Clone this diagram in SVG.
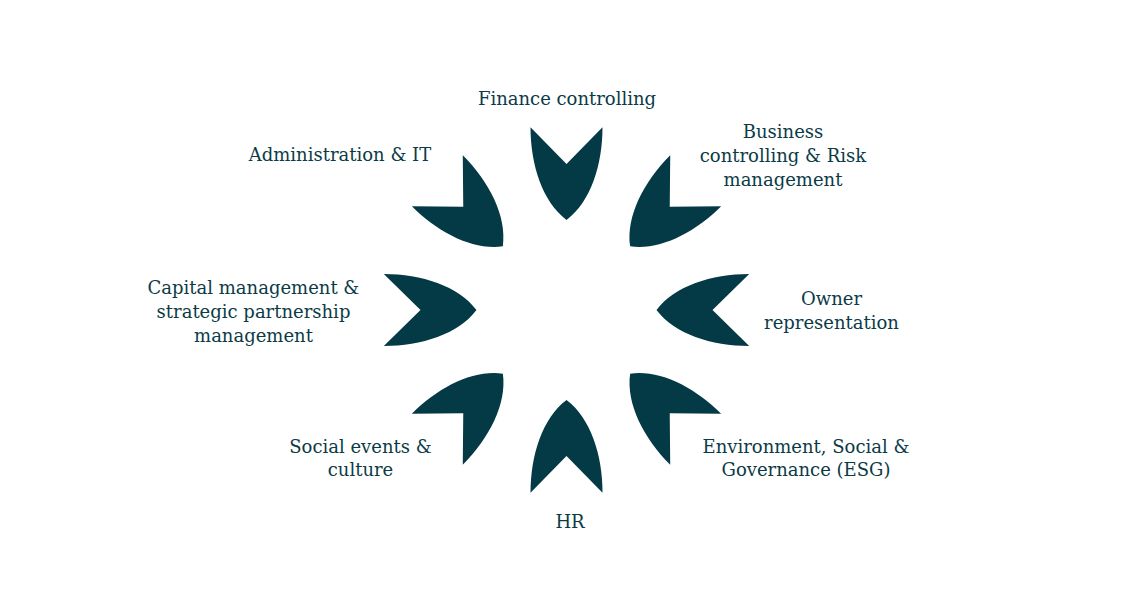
<svg xmlns="http://www.w3.org/2000/svg" xmlns:xlink="http://www.w3.org/1999/xlink" width="1140" height="600" viewBox="0 0 1140 600">
  <style>
    .petal { fill: #033a46; }
    .label { font-family: "DejaVu Serif", "Liberation Serif", serif; font-size: 18px; fill: #0b3b46; text-anchor: middle; }
  </style>
  <defs>
    <path id="petal" class="petal" d="M -36,-182.7 L 0,-146 L 36,-182.7 C 36,-145 24,-108 0,-90 C -24,-108 -36,-145 -36,-182.7 Z"/>
  </defs>
  <rect width="1140" height="600" fill="#ffffff"/>
  <g id="connectors"></g>

  <g id="node-finance">
    <use xlink:href="#petal" href="#petal" transform="translate(566.5,310) rotate(0)"/>
    <text class="label" x="567" y="105">Finance controlling</text>
  </g>

  <g id="node-business">
    <use xlink:href="#petal" href="#petal" transform="translate(566.5,310) rotate(45)"/>
    <text class="label" x="783" y="138">Business</text>
    <text class="label" x="783" y="162">controlling &amp; Risk</text>
    <text class="label" x="783" y="186">management</text>
  </g>

  <g id="node-owner">
    <use xlink:href="#petal" href="#petal" transform="translate(566.5,310) rotate(90)"/>
    <text class="label" x="831.5" y="305">Owner</text>
    <text class="label" x="831.5" y="329">representation</text>
  </g>

  <g id="node-esg">
    <use xlink:href="#petal" href="#petal" transform="translate(566.5,310) rotate(135)"/>
    <text class="label" x="806" y="452.5">Environment, Social &amp;</text>
    <text class="label" x="806" y="476">Governance (ESG)</text>
  </g>

  <g id="node-hr">
    <use xlink:href="#petal" href="#petal" transform="translate(566.5,310) rotate(180)"/>
    <text class="label" x="570" y="528">HR</text>
  </g>

  <g id="node-social">
    <use xlink:href="#petal" href="#petal" transform="translate(566.5,310) rotate(225)"/>
    <text class="label" x="360.5" y="452.5">Social events &amp;</text>
    <text class="label" x="360.5" y="476">culture</text>
  </g>

  <g id="node-capital">
    <use xlink:href="#petal" href="#petal" transform="translate(566.5,310) rotate(270)"/>
    <text class="label" x="253.5" y="294">Capital management &amp;</text>
    <text class="label" x="253.5" y="318">strategic partnership</text>
    <text class="label" x="253.5" y="342">management</text>
  </g>

  <g id="node-admin">
    <use xlink:href="#petal" href="#petal" transform="translate(566.5,310) rotate(315)"/>
    <text class="label" x="340" y="161">Administration &amp; IT</text>
  </g>
</svg>
